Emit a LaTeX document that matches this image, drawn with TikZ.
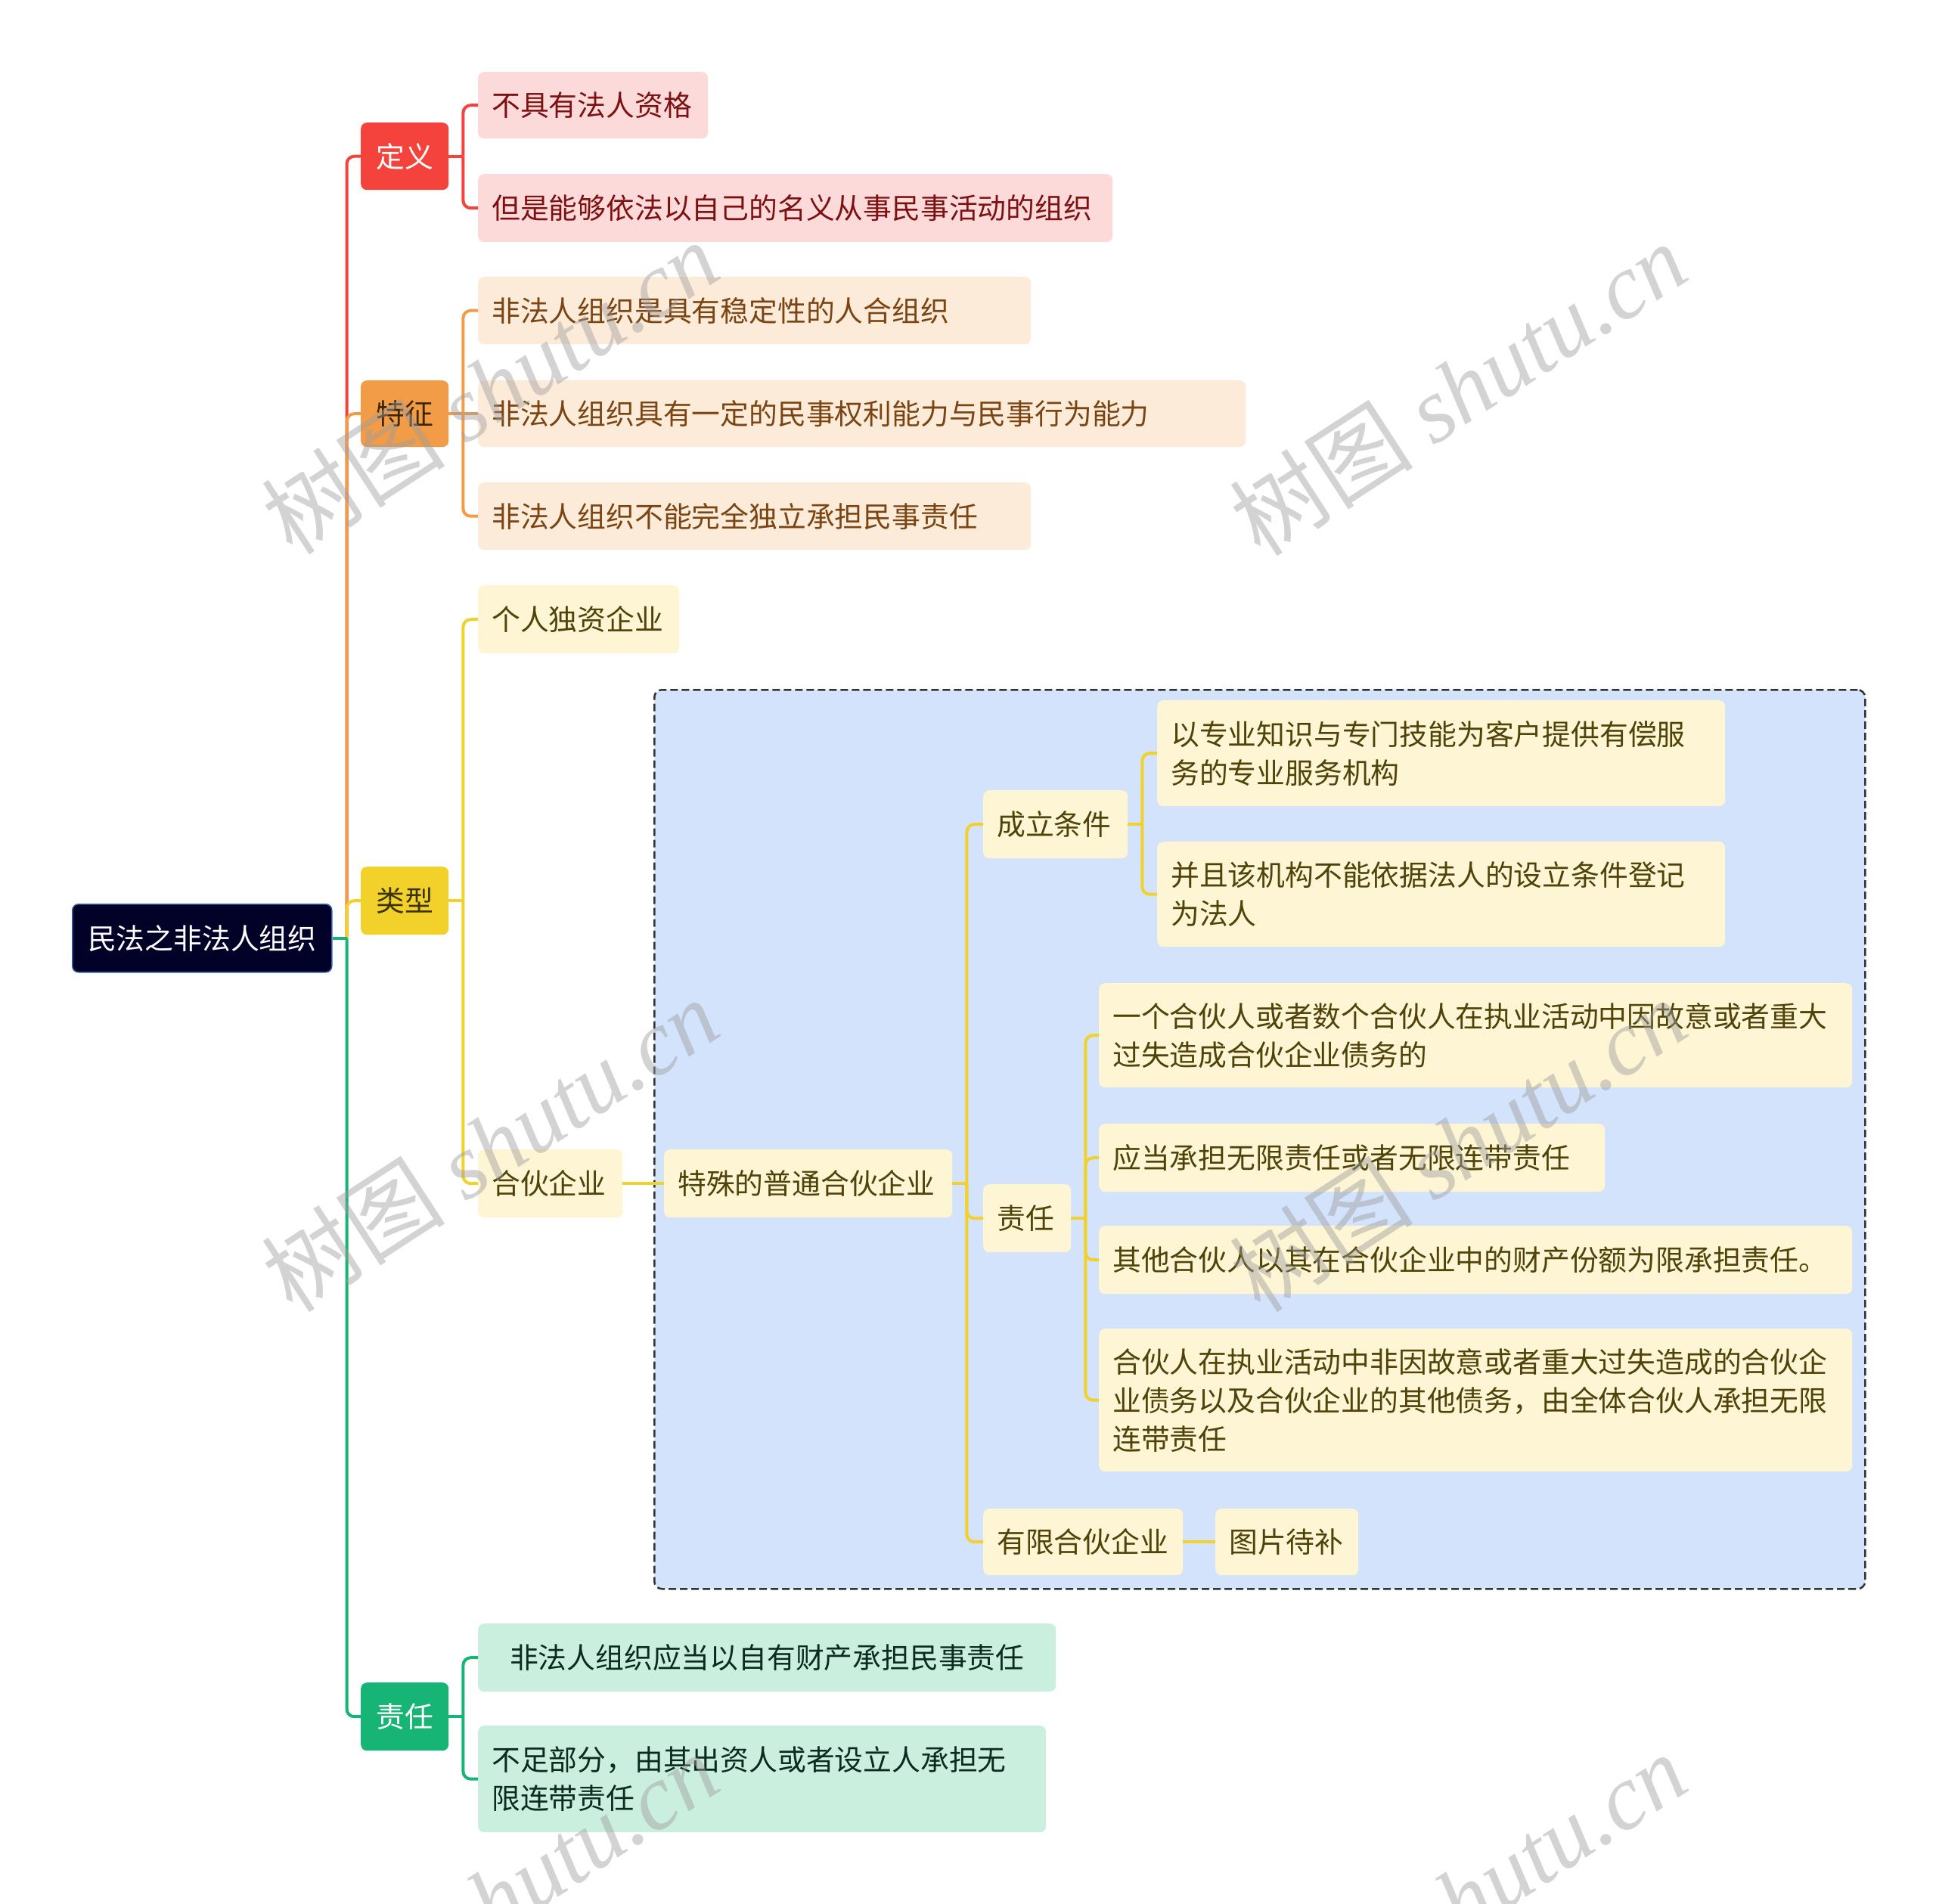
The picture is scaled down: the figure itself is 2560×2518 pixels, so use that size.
\documentclass[tikz,border=0pt]{standalone}
\usepackage{fontspec}
\setmainfont{Noto Sans CJK SC}
\newfontfamily\wmlat{Liberation Serif}
\usetikzlibrary{calc}

\definecolor{rootfill}{HTML}{020228}
\definecolor{rootborder}{HTML}{3A5BA8}
\definecolor{cRed}{HTML}{F4433C}
\definecolor{pinkfill}{HTML}{FDDADA}
\definecolor{pinktext}{HTML}{7D1111}
\definecolor{cOr}{HTML}{F39C47}
\definecolor{ortext}{HTML}{3B2505}
\definecolor{peachfill}{HTML}{FDEBDA}
\definecolor{peachtext}{HTML}{7A4512}
\definecolor{cYe}{HTML}{F1D12A}
\definecolor{yetext}{HTML}{3A3208}
\definecolor{creamfill}{HTML}{FDF5D3}
\definecolor{creamtext}{HTML}{4F430A}
\definecolor{cGr}{HTML}{16B475}
\definecolor{mintfill}{HTML}{CBEFDF}
\definecolor{minttext}{HTML}{0B2B1E}
\definecolor{bluebg}{HTML}{D3E3FB}
\definecolor{wmgray}{HTML}{9E9E9E}

\tikzset{
  box/.style={rounded corners=8pt, inner xsep=18pt, inner ysep=4pt, align=left,
    font=\fontsize{37.8}{51}\selectfont},
  cbox/.style={box, align=center},
  rootbox/.style={cbox, fill=rootfill, draw=rootborder, line width=1.5pt, text=white},
  redmain/.style={cbox, fill=cRed, text=white},
  ormain/.style={cbox, fill=cOr, text=ortext},
  yemain/.style={cbox, fill=cYe, text=yetext},
  grmain/.style={cbox, fill=cGr, text=white},
  pinkleaf/.style={box, fill=pinkfill, text=pinktext},
  peachleaf/.style={box, fill=peachfill, text=peachtext},
  creamleaf/.style={box, fill=creamfill, text=creamtext},
  mintleaf/.style={box, fill=mintfill, text=minttext},
  link/.style={line width=4pt, rounded corners=10pt},
  wm/.style={rotate=33, text=wmgray, text opacity=0.45, inner sep=0pt,
    font=\fontsize{122}{122}\selectfont},
}

\newcommand\mybox[7]{%
  \pgfmathsetmacro\bw{#5-#3-36}%
  \pgfmathsetmacro\bh{#6-#4}%
  \node[#2, anchor=north west, text width=\bw pt, minimum height=\bh pt] (#1) at (#3,#4) {#7};}

\begin{document}
\begin{tikzpicture}[x=1pt,y=-1pt]
\useasboundingbox[fill=white] (0,0) rectangle (2560,2518);

% dashed group background
\node[draw=black!80, fill=bluebg, dashed, dash pattern=on 10pt off 5pt, line width=2.5pt,
  rounded corners=10pt, anchor=north west, minimum width=1601pt, minimum height=1189pt,
  inner sep=0pt] (grp) at (864,911) {};

% root and main branches
\mybox{root}{rootbox}{95}{1195}{438}{1285}{民法之非法人组织}
\mybox{def}{redmain}{477}{162}{593}{251}{定义}
\mybox{feat}{ormain}{477}{503}{593}{591}{特征}
\mybox{type}{yemain}{477}{1146}{593}{1236}{类型}
\mybox{resp}{grmain}{477}{2225}{593}{2315}{责任}

% definition
\mybox{d1}{pinkleaf}{632}{95}{936}{183}{不具有法人资格}
\mybox{d2}{pinkleaf}{632}{230}{1471}{320}{但是能够依法以自己的名义从事民事活动的组织}

% features
\mybox{f1}{peachleaf}{632}{366}{1363}{455}{非法人组织是具有稳定性的人合组织}
\mybox{f2}{peachleaf}{632}{503}{1647}{591}{非法人组织具有一定的民事权利能力与民事行为能力}
\mybox{f3}{peachleaf}{632}{638}{1363}{727}{非法人组织不能完全独立承担民事责任}

% types
\mybox{t1}{creamleaf}{632}{774}{898}{864}{个人独资企业}
\mybox{t2}{creamleaf}{632}{1520}{823}{1610}{合伙企业}
\mybox{sp}{creamleaf}{878}{1520}{1259}{1610}{特殊的普通合伙企业}
\mybox{cl}{creamleaf}{1300}{1045}{1491}{1135}{成立条件}
\mybox{cla}{creamleaf}{1530}{926}{2281}{1066}{以专业知识与专门技能为客户提供有偿服\\务的专业服务机构}
\mybox{clb}{creamleaf}{1530}{1113}{2281}{1252}{并且该机构不能依据法人的设立条件登记\\为法人}
\mybox{zr}{creamleaf}{1300}{1566}{1416}{1656}{责任}
\mybox{zra}{creamleaf}{1453}{1300}{2449}{1438}{一个合伙人或者数个合伙人在执业活动中因故意或者重大\\过失造成合伙企业债务的}
\mybox{zrb}{creamleaf}{1453}{1486}{2122}{1576}{应当承担无限责任或者无限连带责任}
\mybox{zrc}{creamleaf}{1453}{1621}{2449}{1711}{其他合伙人以其在合伙企业中的财产份额为限承担责任。}
\mybox{zrd}{creamleaf}{1453}{1757}{2449}{1946}{合伙人在执业活动中非因故意或者重大过失造成的合伙企\\业债务以及合伙企业的其他债务，由全体合伙人承担无限\\连带责任}
\mybox{yx}{creamleaf}{1300}{1995}{1564}{2083}{有限合伙企业}
\mybox{tp}{creamleaf}{1607}{1995}{1796}{2083}{图片待补}

% responsibility
\node[mintleaf, align=center, anchor=north west, text width=728pt, minimum height=90pt] (ra) at (632,2147) {非法人组织应当以自有财产承担民事责任};
\mybox{rb}{mintleaf}{632}{2282}{1383}{2423}{不足部分，由其出资人或者设立人承担无\\限连带责任}

% trunk connectors
\coordinate (tr) at ($(root.east)+(19,0)$);
\draw[link, cRed] (tr) |- (def.west);
\draw[link, cOr] (tr) |- (feat.west);
\draw[link, cYe] (tr) |- (type.west);
\draw[link, cGr] (tr) |- (resp.west);
\draw[link, cGr] (root.east) -- (tr);

% definition connectors
\coordinate (dj) at ($(def.east)+(19,0)$);
\draw[link, cRed] (def.east) -- (dj);
\draw[link, cRed] (dj) |- (d1.west);
\draw[link, cRed] (dj) |- (d2.west);

% feature connectors
\coordinate (fj) at ($(feat.east)+(19,0)$);
\draw[link, cOr] (feat.east) -- (f2.west);
\draw[link, cOr] (fj) |- (f1.west);
\draw[link, cOr] (fj) |- (f3.west);

% type connectors
\coordinate (tj) at ($(type.east)+(19,0)$);
\draw[link, cYe] (type.east) -- (tj);
\draw[link, cYe] (tj) |- (t1.west);
\draw[link, cYe] (tj) |- (t2.west);
\draw[link, cYe] (t2.east) -- (sp.west);

\coordinate (sj) at ($(sp.east)+(19,0)$);
\draw[link, cYe] (sp.east) -- (sj);
\draw[link, cYe] (sj) |- (cl.west);
\draw[link, cYe] (sj) |- (zr.west);
\draw[link, cYe] (sj) |- (yx.west);

\coordinate (cj) at ($(cl.east)+(19,0)$);
\draw[link, cYe] (cl.east) -- (cj);
\draw[link, cYe] (cj) |- (cla.west);
\draw[link, cYe] (cj) |- (clb.west);

\coordinate (zj) at ($(zr.east)+(19,0)$);
\draw[link, cYe] (zr.east) -- (zj);
\draw[link, cYe] (zj) |- (zra.west);
\draw[link, cYe] (zj) |- (zrb.west);
\draw[link, cYe] (zj) |- (zrc.west);
\draw[link, cYe] (zj) |- (zrd.west);

\draw[link, cYe] (yx.east) -- (tp.west);

% responsibility connectors
\coordinate (rj) at ($(resp.east)+(19,0)$);
\draw[link, cGr] (resp.east) -- (rj);
\draw[link, cGr] (rj) |- (ra.west);
\draw[link, cGr] (rj) |- (rb.west);

% watermarks
\node[wm] (wm1) at (648,512) {树图 {\wmlat\itshape shutu.cn}};
\node[wm] (wm2) at (1928,514) {树图 {\wmlat\itshape shutu.cn}};
\node[wm] (wm3) at (648,1514) {树图 {\wmlat\itshape shutu.cn}};
\node[wm] (wm4) at (1928,1514) {树图 {\wmlat\itshape shutu.cn}};
\node[wm] (wm5) at (648,2512) {树图 {\wmlat\itshape shutu.cn}};
\node[wm] (wm6) at (1928,2512) {树图 {\wmlat\itshape shutu.cn}};
\end{tikzpicture}
\end{document}
